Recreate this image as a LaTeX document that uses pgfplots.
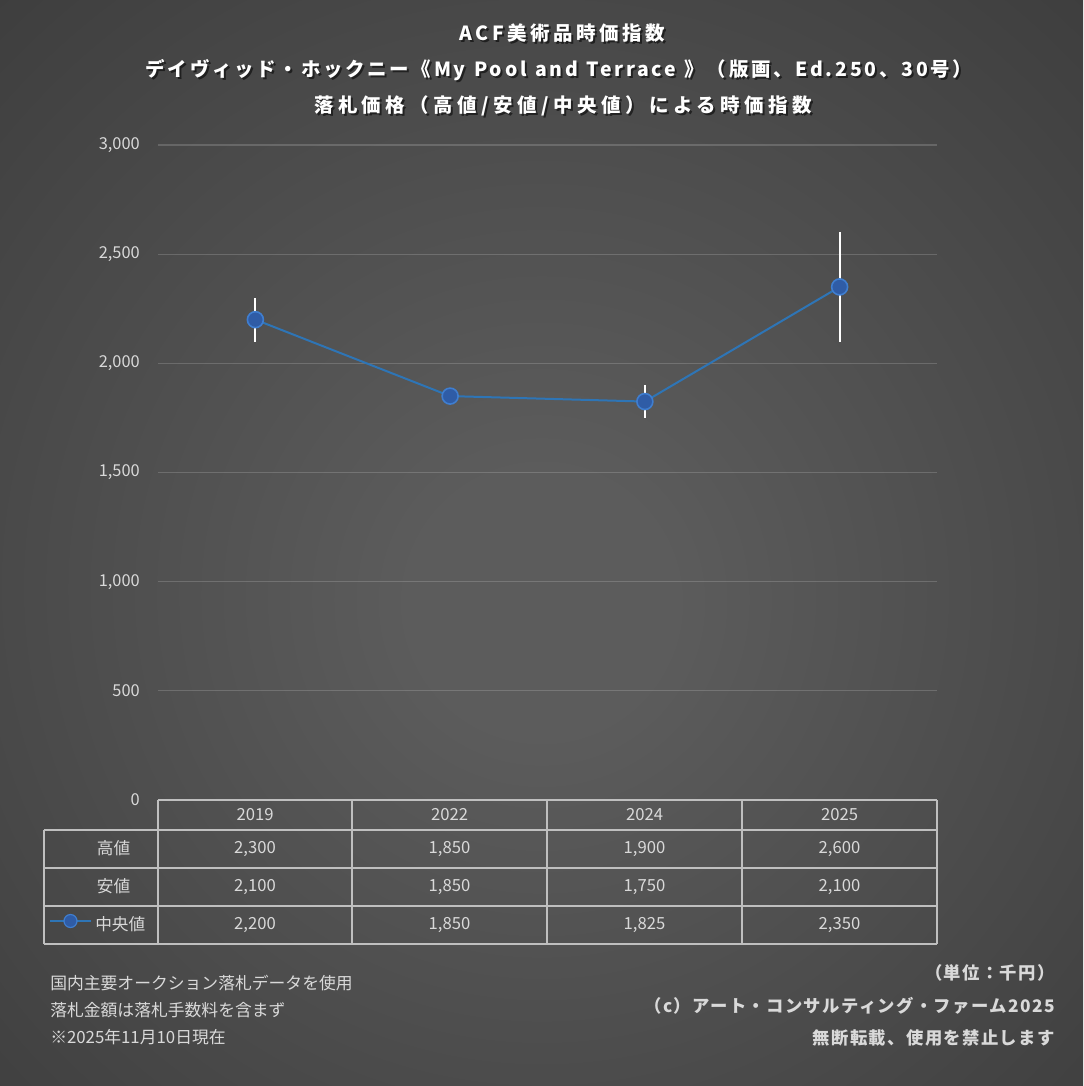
\documentclass[border=0pt]{standalone}
\usepackage{pgfplots}
\pgfplotsset{compat=1.18}
\usepackage{pgfplotstable}
\usepackage{fontspec}
\setmainfont{Noto Sans CJK JP}
\newfontfamily\titlefont{Noto Sans CJK JP}[LetterSpace=18, WordSpace=1.2]
\newfontfamily\titlefontB{Noto Sans CJK JP}[LetterSpace=14, WordSpace=1.2]
\newfontfamily\titlefontC{Noto Sans CJK JP}[LetterSpace=23]
\newfontfamily\notefont{Noto Sans CJK JP}[LetterSpace=8]

\definecolor{bgin}{HTML}{5C5C5C}
\definecolor{bgmid}{HTML}{313131}
\definecolor{bgout}{HTML}{232323}
\definecolor{txt}{HTML}{D9D9D9}
\definecolor{linec}{HTML}{2E75B6}
\definecolor{mfill}{HTML}{2F5CA6}
\definecolor{medge}{HTML}{3F7ED0}
\definecolor{tbl}{HTML}{BFBFBF}

\pgfdeclareradialshading{bgshade}{\pgfpoint{0bp}{-3bp}}{%
  color(0bp)=(bgin); color(6bp)=(bgin); color(50bp)=(bgmid); color(74bp)=(bgout)}

% auction results, thousand yen
\pgfplotstableread{
x year high low mid
0 2019 2300 2100 2200
1 2022 1850 1850 1850
2 2024 1900 1750 1825
3 2025 2600 2100 2350
}\prices

\pgfkeys{/pgf/number format/.cd, fixed, precision=0, 1000 sep={,}, assume math mode=true}

\begin{document}
\begin{tikzpicture}
% background, in pixel units (y down)
\begin{scope}[x=0.75pt,y=-0.75pt]
  \useasboundingbox (0,0) rectangle (1083,1086);
  \shade[shading=bgshade] (0,0) rectangle (1083,1086);
  % title with soft shadow
  \foreach \dx/\dy/\col/\op in {2/2/black/0.55, 0/0/white/1} {
    \node[text=\col, opacity=\op, font=\titlefont\bfseries\fontsize{14.6}{17}\selectfont]
      at (562+\dx,33+\dy) {ACF美術品時価指数};
    \node[text=\col, opacity=\op, font=\titlefontB\bfseries\fontsize{14.6}{17}\selectfont]
      at (559+\dx,70+\dy) {デイヴィッド・ホックニー《My Pool and Terrace 》（版画、Ed.250、30号）};
    \node[text=\col, opacity=\op, font=\titlefontC\bfseries\fontsize{14.6}{17}\selectfont]
      at (563+\dx,106+\dy) {落札価格（高値/安値/中央値）による時価指数};
  }
\end{scope}

\begin{axis}[
  at={(118.5pt,-600pt)}, anchor=south west,
  scale only axis, width=584.25pt, height=491.25pt,
  xmin=-0.5, xmax=3.5, ymin=0, ymax=3000,
  xtick=\empty, ytick={0,500,...,3000},
  axis line style={draw=none}, major tick length=0pt,
  ymajorgrids, grid style={white, opacity=0.17, line width=0.9pt},
  yticklabel style={font=\fontsize{12.3}{14}\selectfont, text=txt, inner sep=0pt, xshift=-13.5pt},
  /pgf/number format/1000 sep={,}, /pgf/number format/assume math mode=true,
  clip=false,
]
\addplot[linec, line width=1.5pt, mark=*, mark size=6pt,
  mark options={fill=mfill, draw=medge, line width=1.2pt}]
  table[x=x, y=mid] {\prices};
\addplot[draw=none, forget plot,
  error bars/.cd, y dir=both, y explicit, error mark=none,
  error bar style={draw=white, line width=1.5pt}]
  table[x=x, y=mid,
    y error plus expr=\thisrow{high}-\thisrow{mid},
    y error minus expr=\thisrow{mid}-\thisrow{low}] {\prices};
\end{axis}

% data table and notes, in pixel units
\begin{scope}[x=0.75pt,y=-0.75pt, every node/.style={text=txt}]
  \begin{scope}[draw=tbl, line width=1.5pt]
    \draw (158,800) -- (937,800);
    \foreach \yy in {830,868,906,944} \draw (44,\yy) -- (937,\yy);
    \foreach \xx in {158,352,547,742,937} \draw (\xx,800) -- (\xx,944);
    \draw (44,830) -- (44,944);
  \end{scope}
  \begin{scope}[every node/.append style={text=txt, font=\fontsize{12.5}{15}\selectfont}]
    \node at (113.5,848) {高値};
    \node at (113.5,886) {安値};
    \node[anchor=west, inner sep=0pt] at (95,924) {中央値};
    \draw[linec, line width=1.5pt] (50,921) -- (91,921);
    \fill[mfill, draw=medge, line width=0.9pt] (70.5,921) circle (6.5);
    \foreach \i/\cx in {0/255,1/449.5,2/644.5,3/839.5} {
      \pgfplotstablegetelem{\i}{year}\of\prices \let\yr\pgfplotsretval
      \pgfplotstablegetelem{\i}{high}\of\prices \let\hv\pgfplotsretval
      \pgfplotstablegetelem{\i}{low}\of\prices \let\lv\pgfplotsretval
      \pgfplotstablegetelem{\i}{mid}\of\prices \let\mv\pgfplotsretval
      \node at (\cx,815) {\yr};
      \node at (\cx,849) {\pgfmathprintnumber{\hv}};
      \node at (\cx,887) {\pgfmathprintnumber{\lv}};
      \node at (\cx,925) {\pgfmathprintnumber{\mv}};
    }
  \end{scope}
  \begin{scope}[every node/.append style={anchor=west, inner sep=0pt, font=\fontsize{12.6}{14}\selectfont}]
    \node at (50,983) {国内主要オークション落札データを使用};
    \node at (50,1010) {落札金額は落札手数料を含まず};
    \node at (50,1037) {※2025年11月10日現在};
  \end{scope}
  \begin{scope}[every node/.append style={anchor=east, inner sep=0pt, font=\notefont\bfseries\fontsize{13}{15}\selectfont}]
    \node at (1055,973) {（単位：千円）};
    \node at (1055,1006) {（c）アート・コンサルティング・ファーム2025};
    \node at (1055,1038) {無断転載、使用を禁止します};
  \end{scope}
\end{scope}
\end{tikzpicture}
\end{document}
